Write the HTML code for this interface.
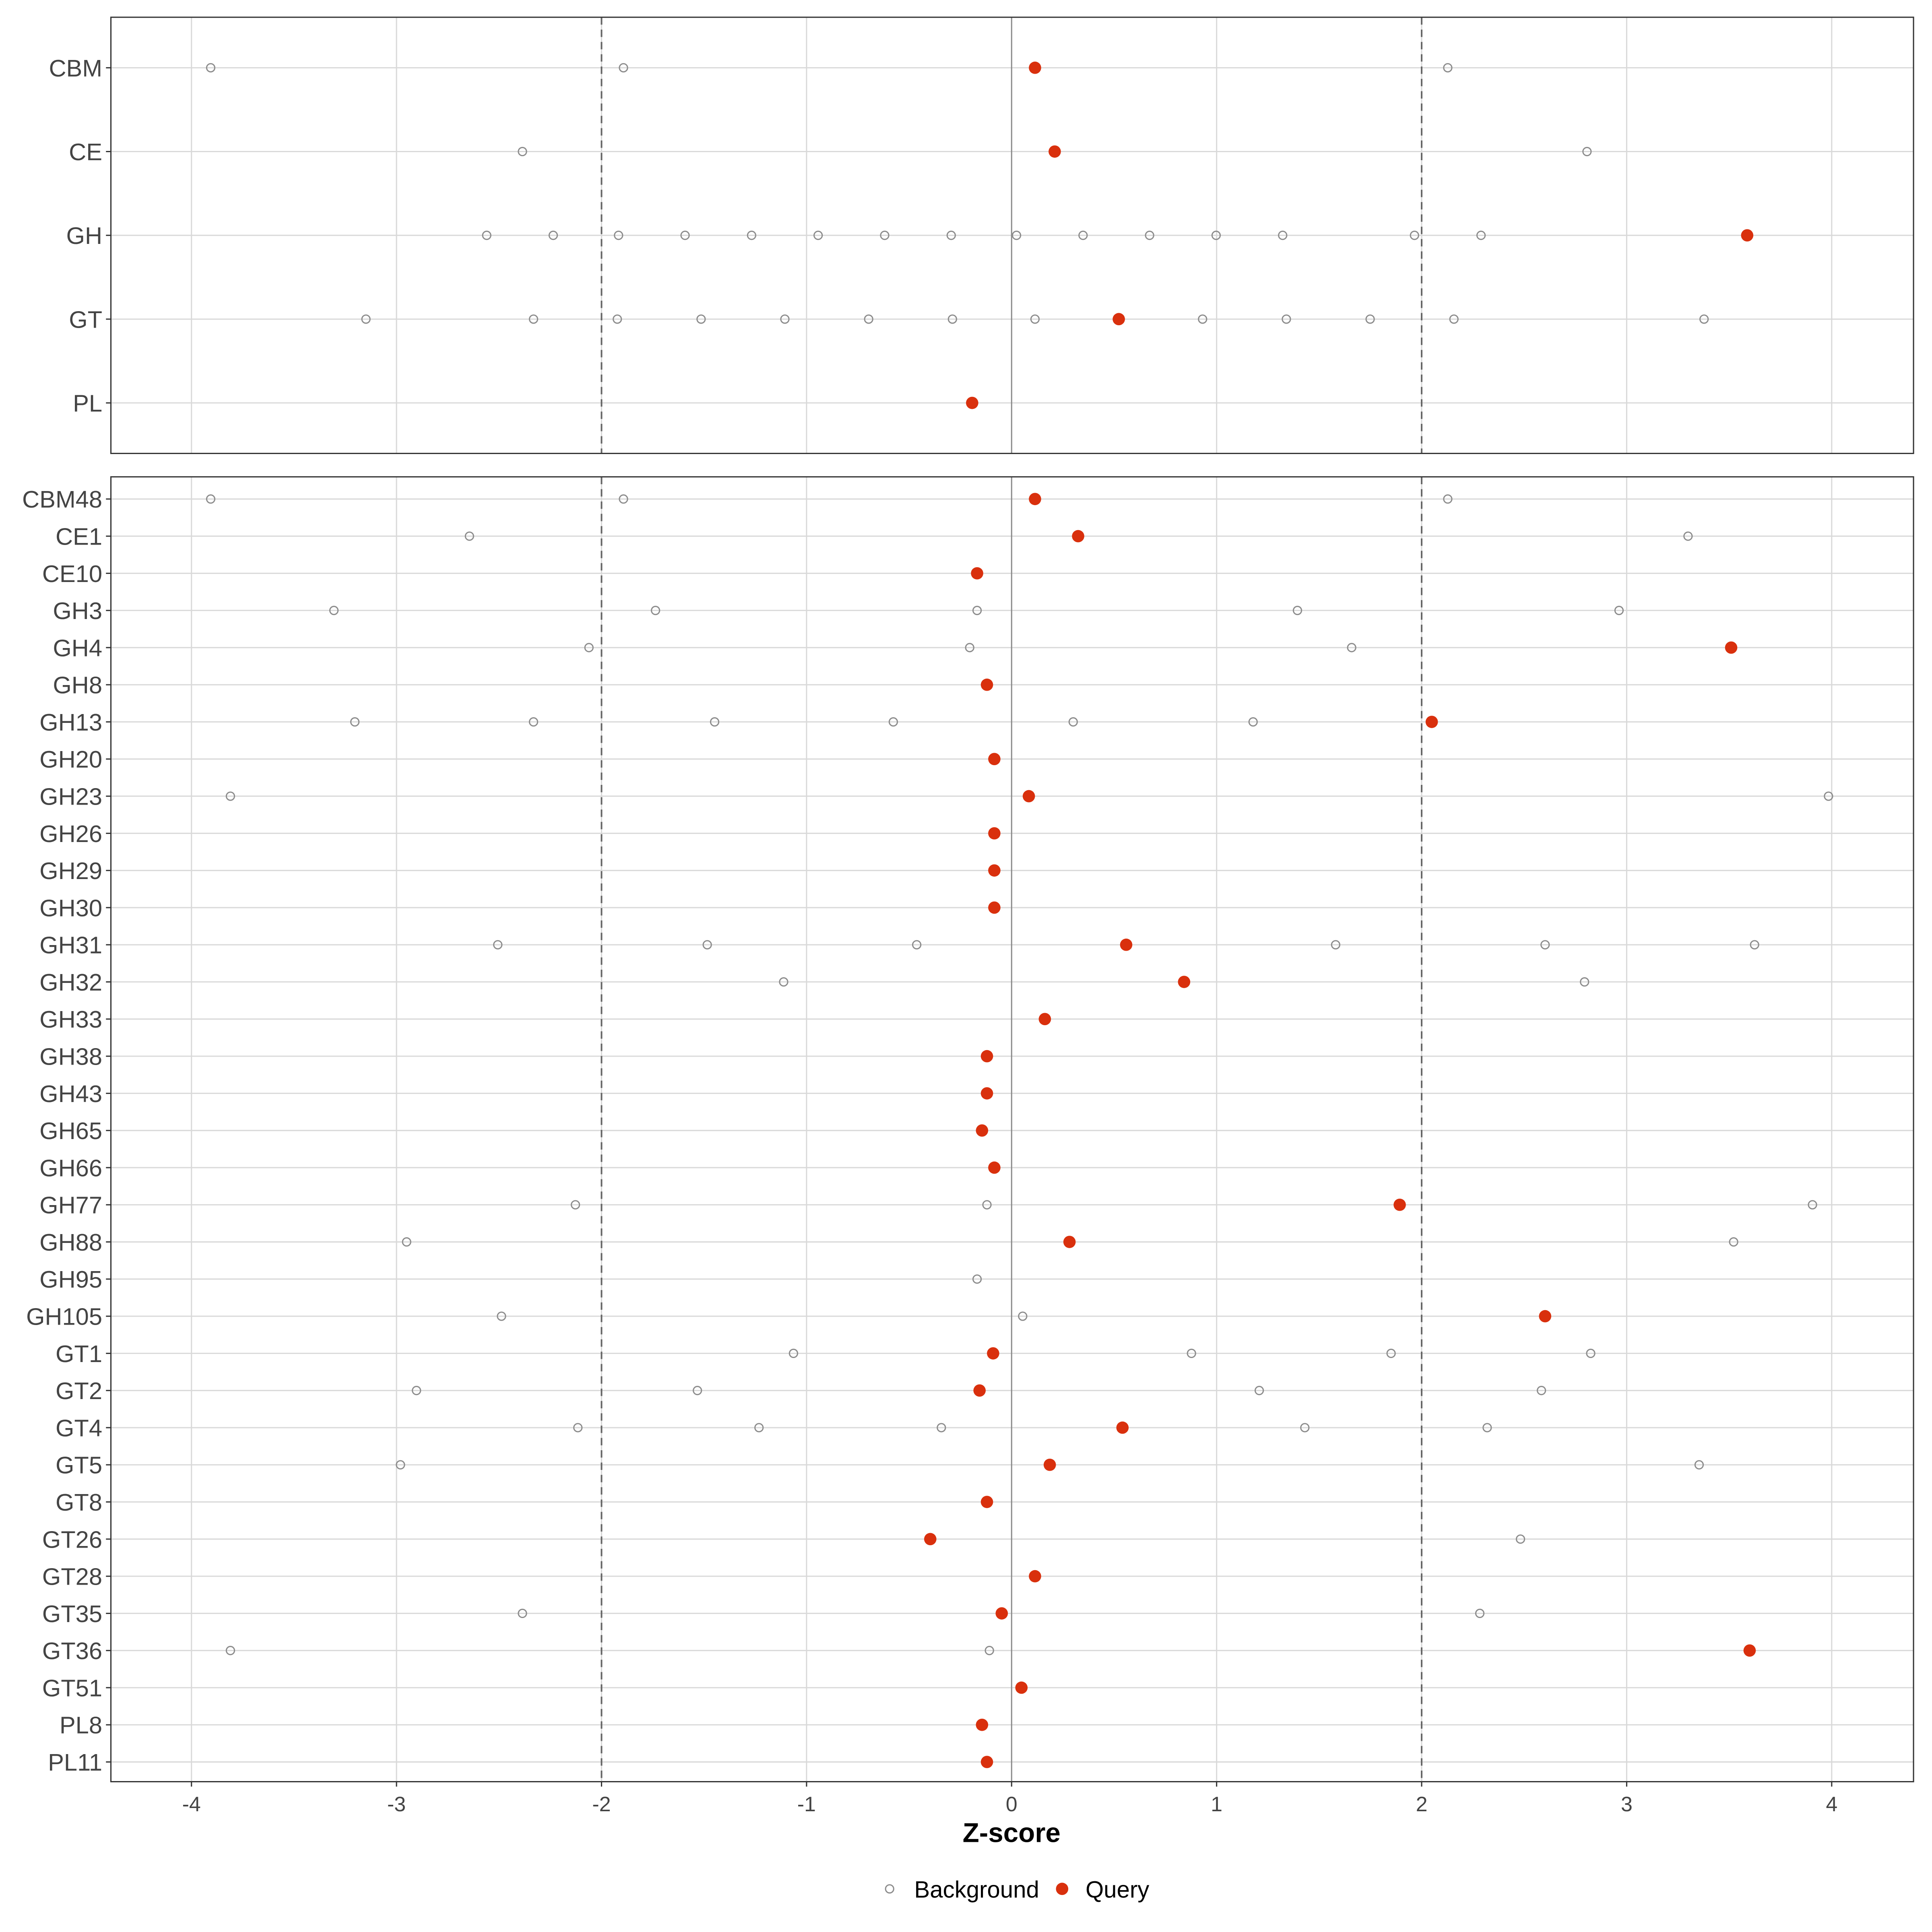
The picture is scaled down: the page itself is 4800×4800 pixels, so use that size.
<!DOCTYPE html>
<html><head><meta charset="utf-8">
<style>html,body{margin:0;padding:0;background:#fff}svg{display:block}</style>
</head><body>
<svg id="s" xmlns="http://www.w3.org/2000/svg" width="4800" height="4800" viewBox="0 0 1568 1568" font-family="Liberation Sans, Arial, sans-serif"></svg>
<script>
(function(){
var s=document.getElementById('s');var h='';
function X(z){return 821+166.4*z;}
function panel(y0,y1,rows){
  h+='<rect x="90" y="'+y0+'" width="1463" height="'+(y1-y0)+'" fill="#fff"/>';
  for(var z=-4;z<=4;z++){ if(z!==0) h+='<line x1="'+X(z)+'" x2="'+X(z)+'" y1="'+y0+'" y2="'+y1+'" stroke="#d9d9d9" stroke-width="1"/>'; }
  rows.forEach(function(r){h+='<line x1="90" x2="1553" y1="'+r[1]+'" y2="'+r[1]+'" stroke="#d9d9d9" stroke-width="1"/>';});
  h+='<line x1="821" x2="821" y1="'+y0+'" y2="'+y1+'" stroke="#8a8a8a" stroke-width="1"/>';
  [-2,2].forEach(function(z){h+='<line x1="'+X(z)+'" x2="'+X(z)+'" y1="'+y0+'" y2="'+y1+'" stroke="#666" stroke-width="1.3" stroke-dasharray="6,4"/>';});
  rows.forEach(function(r){
    var y=r[1];
    h+='<text x="83" y="'+(y+7)+'" font-size="19.5" fill="#444" text-anchor="end">'+r[0]+'</text>';
    h+='<line x1="86" x2="90" y1="'+y+'" y2="'+y+'" stroke="#333"/>';
    (r[2]||[]).forEach(function(x){h+='<circle cx="'+x+'" cy="'+y+'" r="3.3" fill="none" stroke="#8c8c8c" stroke-width="1"/>';});
    (r[3]||[]).forEach(function(x){h+='<circle cx="'+x+'" cy="'+y+'" r="5" fill="#d9300d"/>';});
  });
  h+='<rect x="90" y="'+y0+'" width="1463" height="'+(y1-y0)+'" fill="none" stroke="#333" stroke-width="1"/>';
}
var topRows=[
["CBM",55,[171,506,1175],[840]],
["CE",123,[424,1288],[856]],
["GH",191,[395,449,502,556,610,664,718,772,825,879,933,987,1041,1148,1202],[1418]],
["GT",259,[297,433,501,569,637,705,773,840,976,1044,1112,1180,1383],[908]],
["PL",327,[],[789]]];
panel(14,368,topRows);
var b=[
["CBM48",[171,506,1175],[840]],
["CE1",[381,1370],[875]],
["CE10",[],[793]],
["GH3",[271,532,793,1053,1314],[]],
["GH4",[478,787,1097],[1405]],
["GH8",[],[801]],
["GH13",[288,433,580,725,871,1017],[1162]],
["GH20",[],[807]],
["GH23",[187,1484],[835]],
["GH26",[],[807]],
["GH29",[],[807]],
["GH30",[],[807]],
["GH31",[404,574,744,1084,1254,1424],[914]],
["GH32",[636,1286],[961]],
["GH33",[],[848]],
["GH38",[],[801]],
["GH43",[],[801]],
["GH65",[],[797]],
["GH66",[],[807]],
["GH77",[467,801,1471],[1136]],
["GH88",[330,1407],[868]],
["GH95",[793],[]],
["GH105",[407,830],[1254]],
["GT1",[644,967,1129,1291],[806]],
["GT2",[338,566,1022,1251],[795]],
["GT4",[469,616,764,1059,1207],[911]],
["GT5",[325,1379],[852]],
["GT8",[],[801]],
["GT26",[1234],[755]],
["GT28",[],[840]],
["GT35",[424,1201],[813]],
["GT36",[187,803],[1420]],
["GT51",[],[829]],
["PL8",[],[797]],
["PL11",[],[801]]].map(function(r,i){return [r[0],405+i*(1025/34),r[1],r[2]];});
panel(387,1446,b);
for(var z=-4;z<=4;z++){
  h+='<line x1="'+X(z)+'" x2="'+X(z)+'" y1="1446" y2="1450" stroke="#333"/>';
  h+='<text x="'+X(z)+'" y="1470" font-size="17" fill="#444" text-anchor="middle">'+z+'</text>';
}
h+='<text x="821" y="1495" font-size="22" font-weight="bold" fill="#000" text-anchor="middle">Z-score</text>';
h+='<circle cx="722" cy="1533" r="3.3" fill="none" stroke="#8c8c8c" stroke-width="1"/>';
h+='<text x="742" y="1540" font-size="19" fill="#000">Background</text>';
h+='<circle cx="862" cy="1533" r="5" fill="#d9300d"/>';
h+='<text x="881" y="1540" font-size="19" fill="#000">Query</text>';
s.innerHTML=h;
})();
</script>
</body></html>
